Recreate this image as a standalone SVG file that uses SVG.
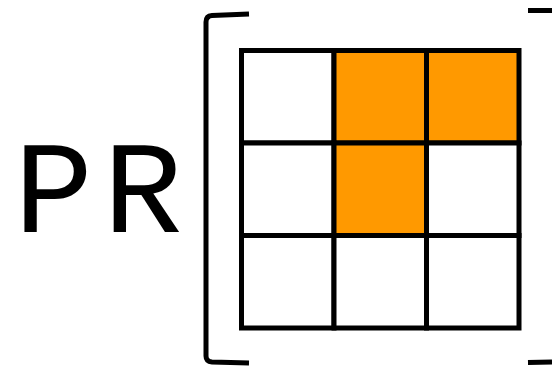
<svg xmlns="http://www.w3.org/2000/svg" width="552" height="368" viewBox="0 0 552 368">
<style>
.cell{stroke:#000;stroke-width:5;fill:#fff}
.on{fill:#FF9900}
.br{fill:none;stroke:#000;stroke-width:5}
.lbl{font-family:"Liberation Mono","Courier New",monospace;font-size:132px;letter-spacing:10px;fill:#000}
</style>
<rect width="552" height="368" fill="#fff"/>
<g id="label"><text class="lbl" x="14" y="232">PR</text></g>
<g id="brackets">
<path class="br" d="M249 14 L212 15.5 Q206 16 206 22 L206 356 Q206 361.5 212 362 L249 363"/>
<path class="br" d="M528 10.5 L552 10.5"/>
<path class="br" d="M528 362.5 L552 362"/>
</g>
<g id="grid">
<rect class="cell" x="241.5" y="50.5" width="92.5" height="92.5"/>
<rect class="cell on" x="334" y="50.5" width="92.5" height="92.5"/>
<rect class="cell on" x="426.5" y="50.5" width="92.5" height="92.5"/>
<rect class="cell" x="241.5" y="143" width="92.5" height="92.5"/>
<rect class="cell on" x="334" y="143" width="92.5" height="92.5"/>
<rect class="cell" x="426.5" y="143" width="92.5" height="92.5"/>
<rect class="cell" x="241.5" y="235.5" width="92.5" height="92.5"/>
<rect class="cell" x="334" y="235.5" width="92.5" height="92.5"/>
<rect class="cell" x="426.5" y="235.5" width="92.5" height="92.5"/>
</g>
</svg>
